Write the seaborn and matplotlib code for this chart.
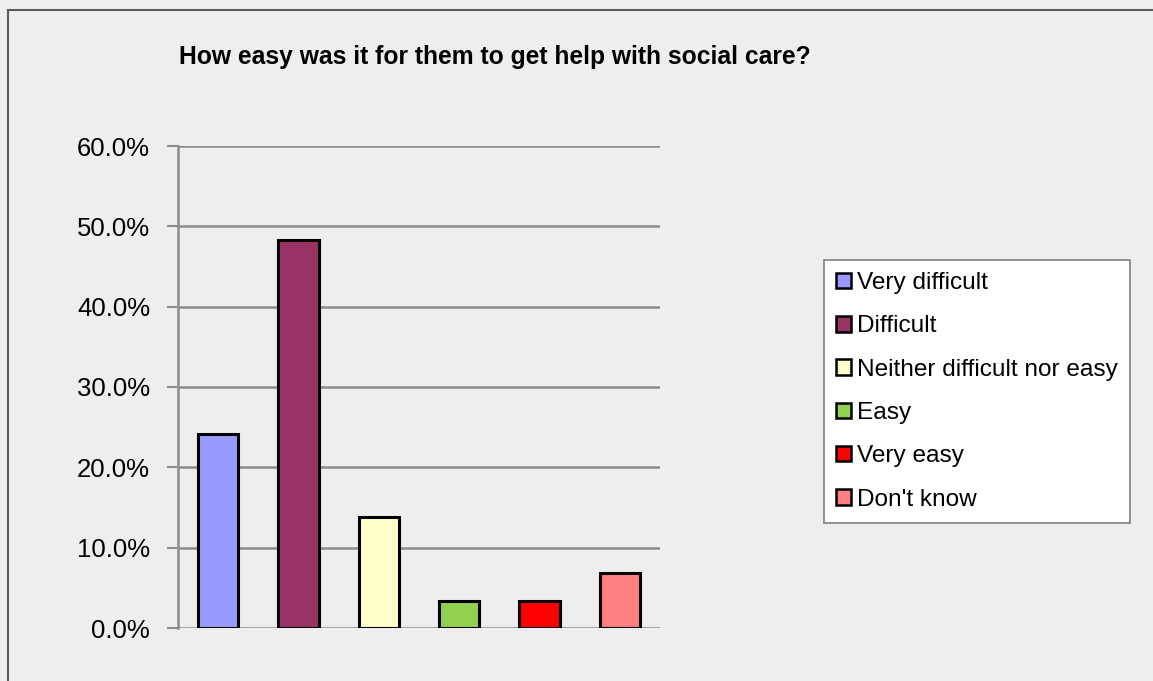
import pandas as pd
import seaborn as sns
import matplotlib.pyplot as plt
from matplotlib.patches import Rectangle
from matplotlib.ticker import PercentFormatter

# Data (shares of 29 responses)
answers = ['Very difficult', 'Difficult', 'Neither difficult nor easy',
           'Easy', 'Very easy', "Don't know"]
share = [24.1, 48.3, 13.8, 3.4, 3.4, 6.9]
colours = ['#9999ff', '#993366', '#ffffcc', '#92d050', '#ff0000', '#ff8080']

title = 'How easy was it for them to get help with social care?'

dtf = pd.DataFrame({'Answer': answers, 'Share': share})

sns.set_style('white')
plt.rcParams['font.family'] = ['Liberation Sans', 'DejaVu Sans']
plt.rcParams['text.color'] = 'black'
plt.rcParams['ytick.labelcolor'] = 'black'

bg = '#eeeeee'
grid = '#8c8c8c'

fig = plt.figure(figsize=(11.53, 6.81), dpi=100, facecolor=bg)
ax = fig.add_axes([178 / 1153, 1 - 628 / 681, 482 / 1153, 482 / 681])
ax.set_facecolor(bg)

sns.barplot(data=dtf, x='Answer', y='Share', hue='Answer', palette=colours,
            saturation=1, width=0.5, edgecolor='black', linewidth=2.2,
            legend=True, ax=ax, zorder=3)

# Axes styling
ax.set_ylim(0, 60)
ax.set_xlim(-0.5, 5.5)
ax.set_yticks([0, 10, 20, 30, 40, 50, 60])
ax.yaxis.set_major_formatter(PercentFormatter(decimals=1))
ax.set_xticks([])
ax.set(xlabel=None, ylabel=None)
ax.tick_params(axis='y', labelsize=18.5, length=8, width=1.5, color=grid,
               labelcolor='black', pad=12, left=True)
ax.yaxis.grid(True, color=grid, linewidth=1.8)
ax.set_axisbelow(True)
for side in ['top', 'right', 'bottom']:
    ax.spines[side].set_visible(False)
ax.spines['left'].set_color(grid)
ax.spines['left'].set_linewidth(1.8)

# Legend
handles, labels = ax.get_legend_handles_labels()
ax.get_legend().remove()
leg = fig.legend(handles, labels, loc='upper left',
                 bbox_to_anchor=(824 / 1153, 1 - 260 / 681),
                 fontsize=17.6, frameon=True, fancybox=False, framealpha=1,
                 handlelength=0.6, handleheight=0.6, handletextpad=0.25,
                 labelspacing=0.87, borderpad=0.5, borderaxespad=0)
leg.get_frame().set_edgecolor('#7f7f7f')
leg.get_frame().set_linewidth(1.2)
leg.get_frame().set_facecolor('white')
for h in leg.legend_handles:
    h.set_edgecolor('black')
    h.set_linewidth(1.8)

fig.text(495 / 1153, 1 - 57 / 681, title, ha='center', va='center',
         fontsize=17.7, fontweight='bold', color='black')

# Chart frame
fig.patches.append(Rectangle((8 / 1153, -0.1), 1.2, 1 - 10 / 681 + 0.1,
                             transform=fig.transFigure, fill=False,
                             edgecolor='#5a5a5a', linewidth=1.5))

fig.savefig('out.png', dpi=100, facecolor=bg)
